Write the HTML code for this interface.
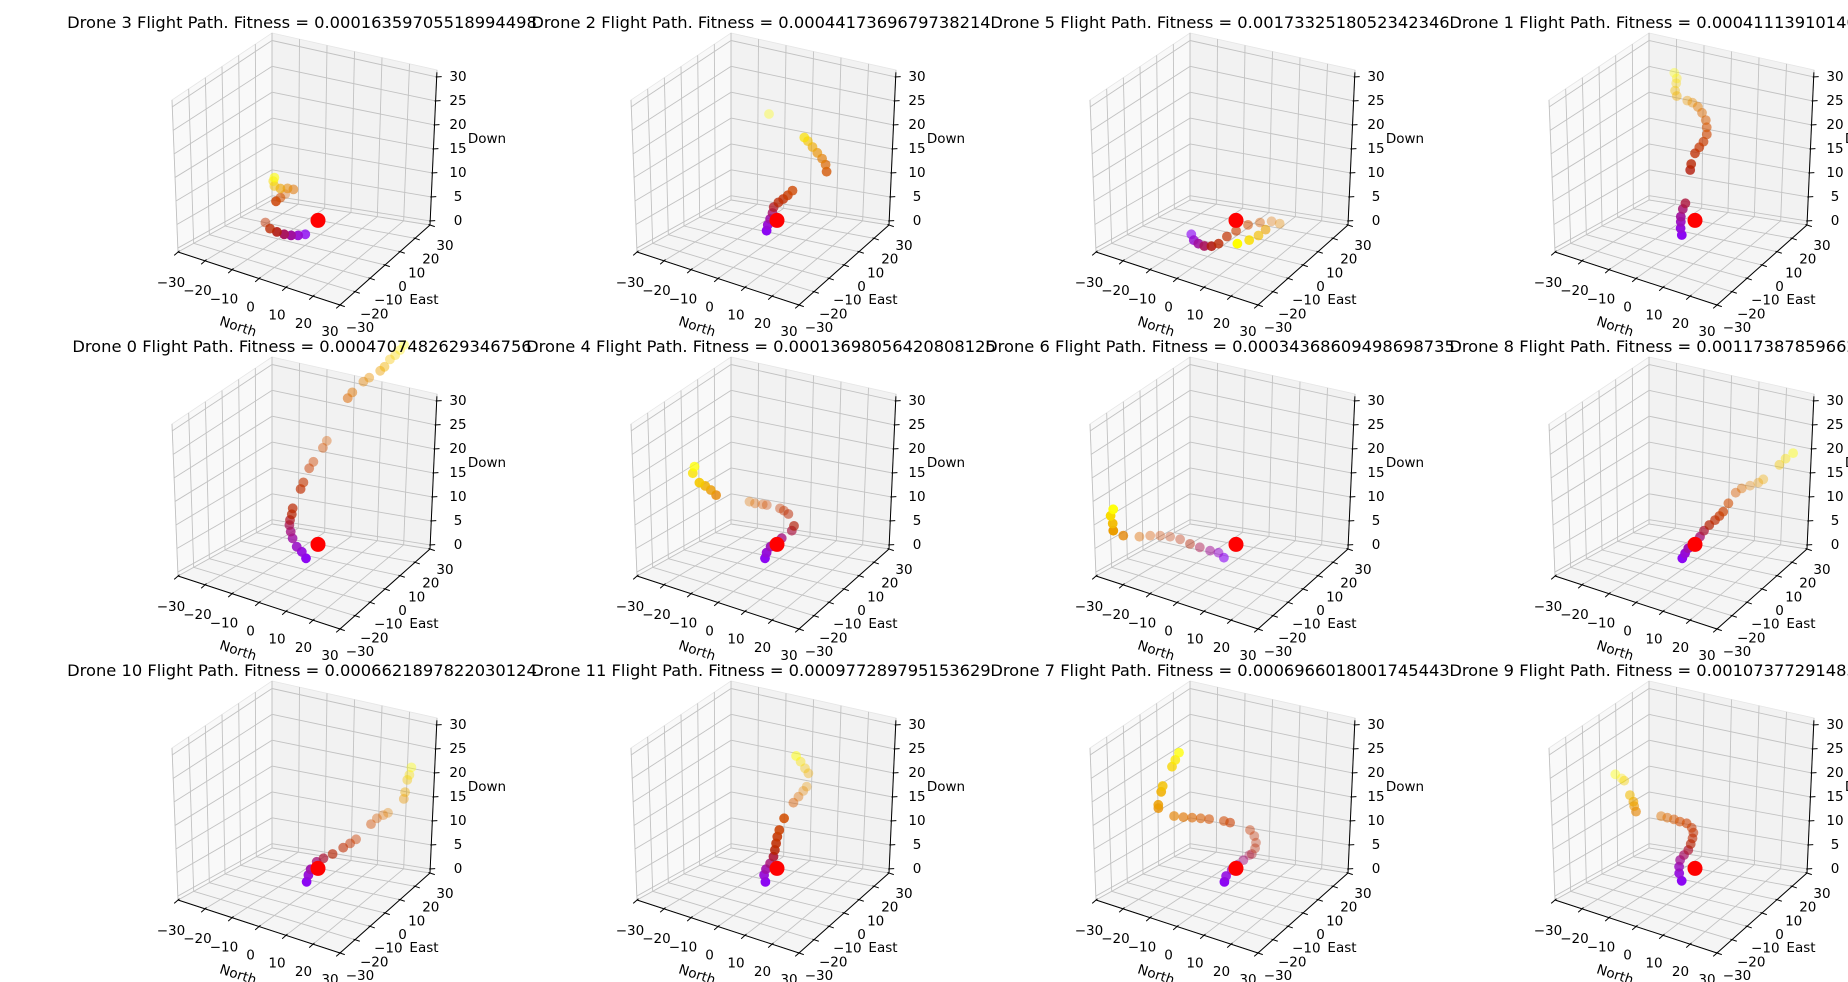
<!DOCTYPE html>
<html><head><meta charset="utf-8"><title>Drone Flight Paths</title>
<style>
html,body{margin:0;padding:0;background:#fff;}
svg{display:block;font-family:"DejaVu Sans","Liberation Sans",sans-serif;}
</style></head>
<body>
<svg id="fig" width="1848" height="982" viewBox="0 0 1848 982" xmlns="http://www.w3.org/2000/svg"></svg>
<script>
// ---- data (subplot order: row-major) ----
const droneNames = ['Drone 3','Drone 2','Drone 5','Drone 1','Drone 0','Drone 4','Drone 6','Drone 8','Drone 10','Drone 11','Drone 7','Drone 9'];
const fitnessLabels = ['0.00016359705518994498','0.0004417369679738214','0.0017332518052342346','0.0004111391014087215','0.0004707482629346756','0.00013698056420808125','0.00034368609498698735','0.0011738785966213348','0.0006621897822030124','0.000977289795153629','0.0006966018001745443','0.0010737729148325171'];
const northVals = [
 [0.8,-0.8,-2.7,-4.9,-7.6,-10.5,-13.6,-8.4,-8.3,-8.1,-4.4,-6.3,-8.2,-10.6,-10.9,-10.2],
 [1.8,1.8,2.1,2.4,2.4,3.7,5.4,7.0,8.3,19.1,18.1,16.8,15.2,13.6,12.0,11.4,-2.4],
 [-6.4,-3.9,-1.6,0.7,2.7,3.9,5.4,7.6,10.5,13.0,15.8,18.7,16.7,15.1,14.0,11.9],
 [0.9,0.0,-0.5,-0.6,-0.9,-0.5,0.9,0.8,1.5,2.3,3.2,3.3,2.6,1.6,-0.2,-1.7,-4.4,-6.4,-9.2,-9.8,-10.3,-10.2,-11.1],
 [1.0,-1.4,-3.6,-5.8,-6.9,-7.8,-7.7,-7.5,-7.6,-5.5,-5.3,-5.1,-4.5,-1.8,-1.4,7.4,8.3,11.0,12.8,16.6,18.0,18.7,20.3,21.5,22.5],
 [1.0,1.2,1.9,3.8,5.7,6.3,2.6,0.4,-1.4,-6.0,-7.3,-9.7,-11.7,-16.9,-18.4,-19.7,-20.8,-24.0,-24.1],
 [0.8,-2.2,-5.1,-8.9,-12.6,-16.7,-20.2,-23.2,-25.9,-28.5,-28.8,-28.6,-29.5,-29.5,-29.3],
 [0.8,1.5,2.3,3.4,4.1,5.3,6.8,8.2,9.4,9.7,9.9,11.7,13.1,15.9,17.7,23.5,25.5,28],
 [1.0,0.9,1.2,1.3,2.8,4.7,7.1,8.4,9.5,14.0,15.3,16.8,18.1,24,24.5,25,25.5,26],
 [1.0,0.0,0.2,1.0,2.8,2.6,3.1,3.6,4.3,5.7,4.9,5.9,6.9,8.0,8.8,7.8,6.8,6.0],
 [1.0,0.4,0.8,1.5,2.4,3.2,4.3,4.9,4.9,4.6,3.8,-0.9,-3.1,-7.7,-10.2,-12.7,-15.2,-18.1,-21.8,-21.4,-20.2,-20.1,-17.6,-16.6,-15.6],
 [0.2,-1.3,-1.9,-2.2,-1.2,-0.1,0.2,0.4,0.4,-0.1,-1.4,-3.7,-6.0,-8.3,-10.5,-17.2,-17.9,-18.0,-19.5,-22.5,-23.9,-25.4]
];
const eastVals = [
 [4.1,2.2,0.9,0.3,0.3,0.9,3.4,1.1,3.9,6.7,5.5,5.0,3.7,4.0,3.8,3.3],
 [3.8,4.6,5.6,6.7,7.5,8.3,8.4,8.6,9.4,12.7,13.8,13.8,13.5,13.2,13.0,11.7,13.0],
 [-4.3,-7.1,-8.2,-8.4,-7.2,-4.6,-1.8,0.4,3.1,6.6,9.3,9.5,3.7,1.8,-2.4,-6.5],
 [3.6,4.4,5.4,5.6,7.5,8.5,9.2,10.0,11.3,12.7,13.9,15.9,17.1,18.3,19.0,18.9,20.2,20.4,18.4,18.4,20.0,20.2,20.2],
 [4.2,5.7,6.3,7.5,8.2,9.0,9.2,10.0,10.8,12.3,13.8,17.3,19.0,20.5,22.4,20.5,21.9,24.5,25.1,25.6,25.9,28.3,28.9,30.0,30.9],
 [4.2,4.9,6.3,10.3,13.6,14.0,16.9,17.9,18.5,18.0,17.6,16.8,16.7,3.8,3.0,1.6,-0.3,1.1,2.4],
 [4.5,6.3,5.9,5.9,6.0,6.8,6.4,5.2,3.4,0.9,-9.3,-16.3,-15.1,-16.5,-15.1],
 [4.1,4.7,5.4,11.2,12.6,14.0,15.1,15.5,15.9,18.8,23.3,24.1,27.1,27.6,27.7,28,28.5,29],
 [4.6,6.0,6.9,10.8,12.6,15.3,18.0,20.3,22.3,24.1,25.7,27.3,28.1,28,28,28.5,29,29.5],
 [4.5,5.4,6.3,7.6,6.6,7.9,7.8,7.7,7.8,8.5,16.1,17.7,19.1,19.4,19.1,18.6,17.5,15.9],
 [4.5,6.7,9.7,12.1,14.6,17.1,16.8,17.9,18.5,17.9,16.5,11.7,11.5,9.9,8.8,7.6,6.3,5.3,1.5,0.7,0.5,1.3,3.0,3.4,4.1],
 [4.8,5.8,6.8,8.0,8.8,9.7,10.8,11.6,12.2,12.0,10.9,10.6,10.8,10.5,10.3,5.6,5.7,5.3,5.7,7.3,8.1,6.6]
];
const downVals = [
 [0,0,0,0,0,0,0,6,6,6,8,8,8,8,9,10],
 [1,2,3,4,5,6,7,8,9,14,15,16,17,18,19,20,22],
 [1,1,1,1,1,1,2,3,4,4,4,4,4,3,3,3],
 [0,1,2,3,4,5,12,13,15,16,17,18,19,20,21,22,22,22,23,24,25,26,27],
 [0,0.5,1,2,3,4,5,6,7,11,12,14,15,18,19,30,31,33,34,36,37,38,39,40,41],
 [0,1,2,3,4,5,6,6,6,6,6,6,6,10,11,12,13,14,15],
 [0,0,0,0,0,0,0,0,0,0,3,6,7,9,10],
 [0,1,2,3,4,5,6,7,8,9,10,11,11,12,13,17,18.5,20],
 [0,1,2,2.5,3,3.5,4.5,5,5.5,9,10,10.5,11,15,16.5,19,20,21.5],
 [0,1,2,3,5,6,7.5,9,10.5,13,14,15,16,17,20,21,22.5,24],
 [0,0.5,1,1.5,2,2.5,3,4,5,6.5,8,10,10,10,10,10,10,10,12,13,16,17,21,22.5,24],
 [0,1,2,3,4,5,6,7,8,9,10,10,10,10,10,11,12,13,14,16,16,17]
];
const targetPoint = [0, 14, 0];
const horizTicks = [-30,-20,-10,0,10,20,30];
const horizTickLabels = ['−30','−20','−10','0','10','20','30'];
const zTicks = [0,5,10,15,20,25,30];
const zTickLabels = ['0','5','10','15','20','25','30'];

// ---- geometry ----
const NS='http://www.w3.org/2000/svg';
const svg=document.getElementById('fig');
const COLW=459, ROWH=324;
const A=[178,252], B=[340,305], C=[430,225], D=[272,200];
const A2=[172,100], D2=[272,33], C2=[437,70];
const zlo=-0.84, zhi=31.45;
function lerp(p,q,t){return [p[0]+(q[0]-p[0])*t, p[1]+(q[1]-p[1])*t];}
function uN(n){return (n+30)/60;}
function vE(e){return (e+30)/60;}
function wZ(z){return (z-zlo)/(zhi-zlo);}
function project(n,e,z){return [297+2.7*n+1.5*e, 239+0.88*n-1.33*e-4.8*z];}
function cmap(x){
  const r=Math.sqrt(x), g=x*x*x, b=Math.max(0,Math.sin(2*Math.PI*x));
  return 'rgb('+Math.round(r*255)+','+Math.round(g*255)+','+Math.round(b*255)+')';
}
function mk(tag,attrs,parent){
  const el=document.createElementNS(NS,tag);
  for(const k in attrs) el.setAttribute(k,attrs[k]);
  parent.appendChild(el);
  return el;
}
function line(p,q,stroke,w,parent){
  return mk('line',{x1:p[0].toFixed(2),y1:p[1].toFixed(2),x2:q[0].toFixed(2),y2:q[1].toFixed(2),stroke:stroke,'stroke-width':w},parent);
}
function poly(pts,fill,parent){
  return mk('polygon',{points:pts.map(p=>p[0].toFixed(1)+','+p[1].toFixed(1)).join(' '),fill:fill,stroke:'#e6e6e6','stroke-width':0.8},parent);
}

for(let k=0;k<12;k++){
  const col=k%4, row=Math.floor(k/4);
  const g=mk('g',{transform:'translate('+(col*COLW)+','+(row*ROWH)+')'},svg);
  
  

  const pl=poly([A,D,D2,A2],'#f9f9f9',g);
  
  
  const pr=poly([D,C,C2,D2],'#f2f2f2',g);
  
  
  const pf=poly([A,B,C,D],'#f5f5f5',g);
  
  

  const gg=mk('g',{},g);
  
  
  const GC='#c2c2c2', GW=0.9;
  horizTicks.forEach(t=>{
    const u=uN(t), v=vE(t);
    line(lerp(A,B,u),lerp(D,C,u),GC,GW,gg);
    line(lerp(A,D,v),lerp(B,C,v),GC,GW,gg);
    line(lerp(A,D,v),lerp(A2,D2,v),GC,GW,gg);
    line(lerp(D,C,u),lerp(D2,C2,u),GC,GW,gg);
  });
  zTicks.forEach(t=>{
    const w=wZ(t);
    line(lerp(A,A2,w),lerp(D,D2,w),GC,GW,gg);
    line(lerp(D,D2,w),lerp(C,C2,w),GC,GW,gg);
  });

  const ax=mk('g',{},g);
  
  
  const nl=line(A,B,'#000',1,ax);
  
  
  const el=line(B,C,'#000',1,ax);
  
  
  const zl=line(C,lerp(C,C2,wZ(30)+0.03),'#000',1,ax);
  
  

  const tg=mk('g',{'font-size':'13.5px',fill:'#000','text-anchor':'middle','dominant-baseline':'central'},g);
  
  
  horizTicks.forEach((t,i)=>{
    const u=uN(t);
    const p=lerp(A,B,u);
    line([p[0]+1.5,p[1]-1.3],[p[0]-3.8,p[1]+3.4],'#000',1,ax);
    const off=lerp([-7,31],[-10,27],u);
    const tx=mk('text',{x:(p[0]+off[0]).toFixed(1),y:(p[1]+off[1]).toFixed(1)},tg);
    
    
    tx.textContent=horizTickLabels[i];
    const v=vE(t);
    const q=lerp(B,C,v);
    line([q[0]-1.5,q[1]-0.5],[q[0]+4.8,q[1]+1.6],'#000',1,ax);
    const off2=lerp([20,23],[15,21],v);
    const ty=mk('text',{x:(q[0]+off2[0]).toFixed(1),y:(q[1]+off2[1]).toFixed(1)},tg);
    
    
    ty.textContent=horizTickLabels[i];
  });
  zTicks.forEach((t,i)=>{
    const p=lerp(C,C2,wZ(t));
    line([p[0]-1,p[1]],[p[0]+5,p[1]-0.3],'#000',1,ax);
    const tz=mk('text',{x:458,y:p[1].toFixed(1)},tg);
    
    
    tz.textContent=zTickLabels[i];
  });
  const lbN=mk('text',{x:238,y:327,transform:'rotate(18 238 327)'},tg);
  
  
  lbN.textContent='North';
  const lbE=mk('text',{x:424,y:300},tg);
  
  
  lbE.textContent='East';
  const lbD=mk('text',{x:487,y:139},tg);
  
  
  lbD.textContent='Down';

  const pg=mk('g',{},g);
  
  
  const ns=northVals[k], es=eastVals[k], ds=downVals[k];
  const n=ns.length;
  const close=ns.map((v,i)=>0.25*v-0.8*es[i]);
  const cmin=Math.min(...close), cmax=Math.max(...close);
  for(let i=0;i<n;i++){
    const p=project(ns[i],es[i],ds[i]);
    const t=n>1?i/(n-1):0;
    const a=cmax>cmin?0.35+0.65*(close[i]-cmin)/(cmax-cmin):1;
    const c=mk('circle',{cx:p[0].toFixed(1),cy:p[1].toFixed(1),r:4.9,fill:cmap(0.3+0.7*t),'fill-opacity':a.toFixed(2)},pg);
    
    
  }
  const tp=project(targetPoint[0],targetPoint[1],targetPoint[2]);
  const tc=mk('circle',{cx:tp[0].toFixed(1),cy:tp[1].toFixed(1),r:7.5,fill:'#ff0000'},g);
  
  
}
for(let k=0;k<12;k++){
  const col=k%4, row=Math.floor(k/4);
  const t=mk('text',{x:col*COLW+302,y:row*ROWH+28,'font-size':'16.3px','text-anchor':'middle',fill:'#000'},svg);
  
  
  t.textContent=droneNames[k]+' Flight Path. Fitness = '+fitnessLabels[k];
}
</script>
</body></html>
